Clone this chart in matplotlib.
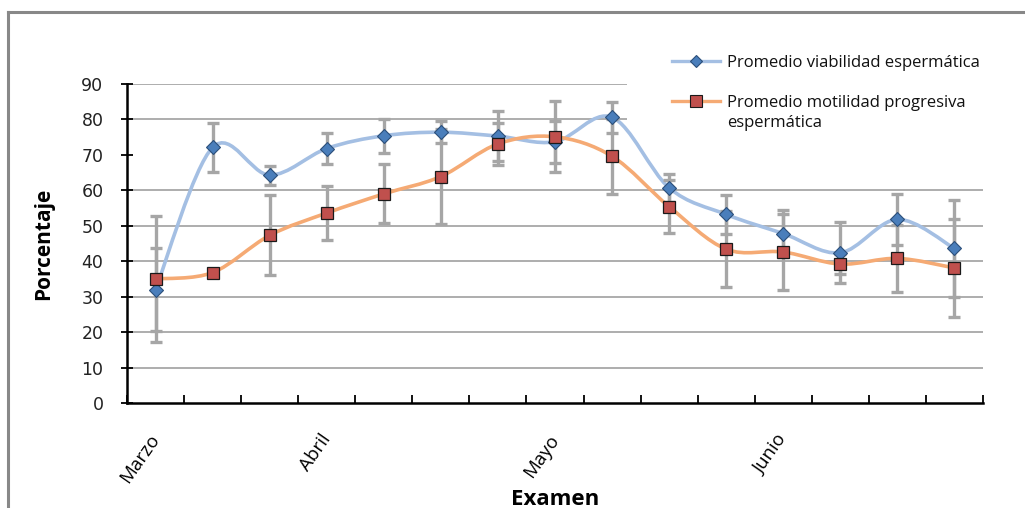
import numpy as np
import matplotlib
matplotlib.use("Agg")
import matplotlib.pyplot as plt
from matplotlib.path import Path
from matplotlib.patches import PathPatch, Rectangle
from matplotlib.lines import Line2D

# Exam-by-exam averages (percent) with their standard deviations
examenes = np.arange(15)
mes_pos = [0, 3, 7, 11]
mes_labels = ["Marzo", "Abril", "Mayo", "Junio"]

viabilidad = [32.0, 72.1, 64.3, 71.8, 75.4, 76.4, 75.3, 73.7, 80.6, 60.7, 53.2, 47.8, 42.4, 51.8, 43.6]
viabilidad_de = [11.8, 6.9, 2.7, 4.3, 4.8, 3.1, 7.0, 6.0, 4.3, 3.9, 5.5, 6.6, 8.6, 7.2, 13.6]
motilidad = [35.0, 36.8, 47.3, 53.6, 59.0, 63.9, 73.1, 75.1, 69.6, 55.4, 43.4, 42.6, 39.2, 40.8, 38.1]
motilidad_de = [17.7, 0.8, 11.3, 7.6, 8.3, 13.3, 6.0, 10.0, 10.5, 7.4, 10.8, 10.7, 2.9, 9.5, 13.8]

serie_viab = "Promedio viabilidad espermática"
serie_mot = "Promedio motilidad progresiva\nespermática"

C_BLUE_LINE = "#A4BFE3"
C_BLUE_MK = "#4A7EBB"
C_ORANGE_LINE = "#F5AA74"
C_RED_MK = "#C0504D"
C_ERR = "#A6A6A6"

TXT = "Open Sans"
W, H = 1025, 508


def smooth_path(x, y):
    """Spreadsheet-style smoothed line: cubic Bezier through every point."""
    pts = np.column_stack([x, y]).astype(float)
    n = len(pts)
    verts = [pts[0]]
    codes = [Path.MOVETO]
    for i in range(n - 1):
        p0 = pts[i - 1] if i > 0 else pts[i]
        p1 = pts[i]
        p2 = pts[i + 1]
        p3 = pts[i + 2] if i + 2 < n else pts[i + 1]
        c1 = p1 + (p2 - p0) / 6.0
        c2 = p2 - (p3 - p1) / 6.0
        verts += [c1, c2, p2]
        codes += [Path.CURVE4] * 3
    return Path(verts, codes)


def fx(px):
    return px / W


def fy(py):
    return 1 - py / H


fig = plt.figure(figsize=(10.25, 5.08), dpi=100)
ax = fig.add_axes([fx(127), fy(403), (983 - 127) / W, (403 - 84) / H])

ax.set_xlim(-0.5, 14.5)
ax.set_ylim(0, 90)

# horizontal gridlines (70 is not drawn)
for v in [10, 20, 30, 40, 50, 60, 80, 90]:
    ax.axhline(v, color="#A0A0A0", lw=1.2, zorder=0.5)

# smoothed series lines
ax.add_patch(PathPatch(smooth_path(examenes, viabilidad), fill=False,
                       edgecolor=C_BLUE_LINE, lw=2.6, zorder=2, capstyle="round"))
ax.add_patch(PathPatch(smooth_path(examenes, motilidad), fill=False,
                       edgecolor=C_ORANGE_LINE, lw=2.6, zorder=2.1, capstyle="round"))

# error bars
ax.errorbar(examenes, viabilidad, yerr=viabilidad_de, fmt="none", ecolor=C_ERR,
            elinewidth=2.4, capsize=4, capthick=2.4, zorder=3)
ax.errorbar(examenes, motilidad, yerr=motilidad_de, fmt="none", ecolor=C_ERR,
            elinewidth=2.4, capsize=4, capthick=2.4, zorder=3)

# markers
ax.plot(examenes, viabilidad, ls="none", marker="D", ms=7, mfc=C_BLUE_MK,
        mec="#2B4F7A", mew=0.8, zorder=4)
ax.plot(examenes, motilidad, ls="none", marker="s", ms=9, mfc=C_RED_MK,
        mec="#1A1A1A", mew=0.9, zorder=5)

# axes styling
for s in ["top", "right"]:
    ax.spines[s].set_visible(False)
for s in ["left", "bottom"]:
    ax.spines[s].set_linewidth(1.8)
    ax.spines[s].set_color("black")

ax.set_yticks(np.arange(0, 91, 10))
ax.tick_params(axis="y", direction="inout", length=8, width=1.3, pad=13,
               labelsize=12.5, colors="black", labelcolor="#222222")
for lab in ax.get_yticklabels():
    lab.set_family("DejaVu Sans")

ax.set_xticks(np.arange(-0.5, 15, 1))
ax.set_xticklabels([])
ax.tick_params(axis="x", which="major", direction="in", length=6, width=1.3)
ax.set_xticks(mes_pos, minor=True)
ax.set_xticklabels(mes_labels, minor=True, rotation=55, ha="right",
                   rotation_mode="anchor", family=TXT, fontsize=13.5)
ax.tick_params(axis="x", which="minor", length=0, pad=24)
for lab in ax.get_xticklabels(minor=True):
    lab.set_va("center")

ax.set_ylabel("Porcentaje", family=TXT, fontweight="bold", fontsize=15)
ax.yaxis.set_label_coords(-73 / 856, 0.5)
fig.text(fx(555), fy(505), "Examen", family=TXT, fontweight="bold",
         fontsize=16, ha="center", va="baseline")

# legend on a white panel that masks the upper gridlines
ax.add_artist(Rectangle((fx(627), fy(145)), (W - 627) / W, 115 / H,
                        transform=fig.transFigure, facecolor="white",
                        edgecolor="none", zorder=1, clip_on=False))
legend_rows = [
    (61, serie_viab, C_BLUE_LINE, "D", 6, C_BLUE_MK, "#2B4F7A"),
    (101, serie_mot, C_ORANGE_LINE, "s", 8, C_RED_MK, "#1A1A1A"),
]
for ypix, label, lc, mk, ms, mfc, mec in legend_rows:
    fig.add_artist(Line2D([fx(672), fx(720)], [fy(ypix), fy(ypix)],
                          transform=fig.transFigure, color=lc, lw=2.4))
    fig.add_artist(Line2D([fx(696)], [fy(ypix)], transform=fig.transFigure,
                          ls="none", marker=mk, ms=ms, mfc=mfc, mec=mec, mew=0.8))
    fig.text(fx(727), fy(ypix - 6), label, family=TXT, fontsize=12,
             color="#111111", ha="left", va="top", linespacing=1.35)

# outer chart frame
fig.add_artist(Line2D([fx(8), fx(8)], [0, fy(12)], transform=fig.transFigure,
                      color="#888888", lw=2.2))
fig.add_artist(Line2D([fx(8), 1], [fy(12), fy(12)], transform=fig.transFigure,
                      color="#888888", lw=2.2))

fig.savefig("out.png", dpi=100)
